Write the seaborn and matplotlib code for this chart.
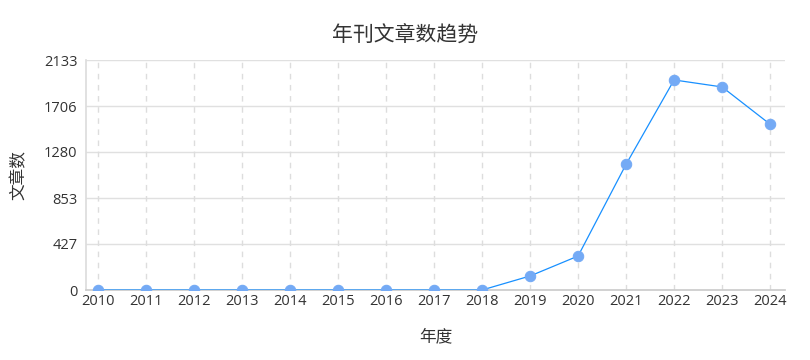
import matplotlib
matplotlib.use("Agg")
import matplotlib.pyplot as plt
import seaborn as sns
import pandas as pd

years = [2010, 2011, 2012, 2013, 2014, 2015, 2016, 2017, 2018, 2019, 2020, 2021, 2022, 2023, 2024]
counts = [0, 0, 0, 0, 0, 0, 0, 0, 0, 130, 315, 1166, 1948, 1883, 1537]
yticks = [0, 427, 853, 1280, 1706, 2133]

sns.set_theme(style="white")
plt.rcParams['font.family'] = ['Noto Sans CJK SC', 'DejaVu Sans']

df = pd.DataFrame({"year": years, "count": counts})

fig = plt.figure(figsize=(8.1, 3.6), dpi=100)
ax = fig.add_axes([86/810, 1-290/360, (785-86)/810, 230/360])

sns.lineplot(data=df, x="year", y="count", ax=ax, color="#1890ff", linewidth=0.9,
             marker="o", markersize=7.5, markerfacecolor="#74aaf5", markeredgecolor="#74aaf5", zorder=3)

ax.set_xlim(2010 - 0.25, 2024 + 0.31)
ax.set_ylim(0, 2133)
ax.set_xticks(years)
ax.set_xticklabels([str(y) for y in years], family=['Open Sans', 'DejaVu Sans'])
ax.set_yticks(yticks)
ax.set_yticklabels([str(v) for v in yticks], family=['Open Sans', 'DejaVu Sans'])

for v in yticks[1:]:
    ax.axhline(v, color="#e0e0e0", linewidth=1, zorder=0)
for x in years:
    ax.axvline(x, color="#dddddd", linewidth=1, linestyle=(0, (4, 4)), zorder=0)

for s in ["top", "right"]:
    ax.spines[s].set_visible(False)
ax.spines["left"].set_color("#dddddd")
ax.spines["bottom"].set_color("#cccccc")

ax.tick_params(axis="both", colors="#333333", labelsize=10.5, length=0, pad=6)
ax.tick_params(axis="x", length=0, pad=3)

ax.set_xlabel("年度", fontsize=12, color="#333333", labelpad=14)
ax.set_ylabel("文章数", fontsize=12, color="#333333", labelpad=12)
fig.suptitle("年刊文章数趋势", fontsize=15, color="#333333", y=0.93)

fig.savefig("out.png", dpi=100)
